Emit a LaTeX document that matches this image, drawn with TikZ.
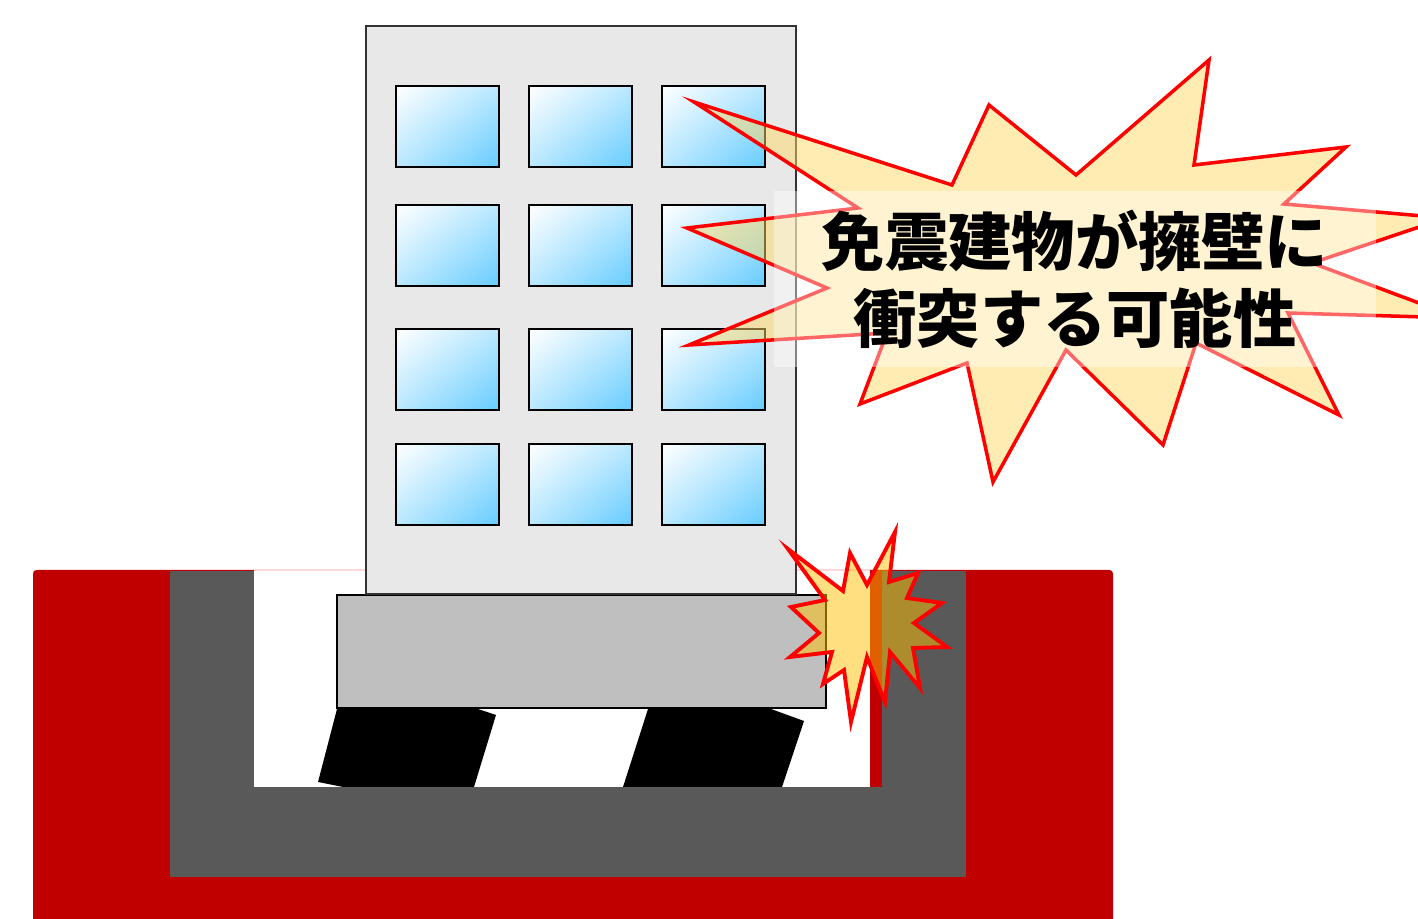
\documentclass[tikz,border=0pt]{standalone}
\usepackage{fontspec}
\newfontfamily\jpfont{Noto Sans CJK JP}
\usetikzlibrary{shadings}
\definecolor{groundred}{HTML}{C00000}
\definecolor{wallgray}{HTML}{595959}
\definecolor{bldgray}{HTML}{E8E8E8}
\definecolor{slabgray}{HTML}{BFBFBF}
\definecolor{glass}{HTML}{66CCFF}
\definecolor{burstfill}{HTML}{FFD966}
\definecolor{sparkfill}{HTML}{FFC000}

\begin{document}
\begin{tikzpicture}[x=0.01cm,y=-0.01cm,
    bldg/.style={fill=bldgray, draw=black!80, line width=0.5pt},
    slab/.style={fill=slabgray, draw=black, line width=0.6pt},
    winframe/.style={draw=black, line width=0.65pt},
    burst/.style={draw=red, line width=1pt, line join=miter, fill=burstfill, fill opacity=0.5},
    spark/.style={draw=red, line width=1.1pt, line join=miter, fill=sparkfill, fill opacity=0.5}]
\useasboundingbox (0,0) rectangle (1418,919);
% ground, retaining wall and pit
\fill[groundred, rounded corners=1pt] (33,570) rectangle (1113,930);
\fill[wallgray] (170,571) rectangle (966,877);
\fill[white] (254,571) rectangle (882,787);
\fill[groundred] (870,571) rectangle (882,787);
\draw[red!15, line width=0.3pt] (254,570) -- (870,570);
% isolators
\fill[black] (337,709) -- (478,709) -- (496,715) -- (474,787) -- (343,787) -- (318,782) -- cycle;
\fill[black] (648,709) -- (771,709) -- (804,721) -- (782,787) -- (623,787) -- cycle;
% building
\draw[slab] (337,595) rectangle (826,708);
\draw[bldg] (366,26) rectangle (796,594);
\foreach \x in {396,529,662}
  \foreach \y in {86,205,329,444} {
    \shade[upper left=white, upper right=glass!45, lower left=glass!45, lower right=glass]
      (\x,\y) rectangle ++(103,81);
    \draw[winframe] (\x,\y) rectangle ++(103,81);
  }
% spark at the wall
\draw[spark] (788,549) -- (843,591) -- (850,553) -- (867,585) -- (895,532) -- (889,582)
  -- (918,573) -- (907,598) -- (942,603) -- (914,623) -- (947,647) -- (913,648)
  -- (920,688) -- (890,652) -- (885,702) -- (867,657) -- (851,722) -- (844,670)
  -- (823,684) -- (832,652) -- (790,657) -- (819,633) -- (791,607) -- (825,600) -- cycle;
% callout
\draw[burst] (694,102) -- (952,185) -- (989,105) -- (1076,175) -- (1209,60) -- (1194,165)
  -- (1346,147) -- (1284,204) -- (1446,218) -- (1312,263) -- (1459,318) -- (1288,313)
  -- (1339,415) -- (1196,343) -- (1163,445) -- (1066,350) -- (993,482) -- (967,363)
  -- (860,404) -- (887,333) -- (689,345) -- (827,288) -- (687,228) -- (858,208) -- cycle;
\node[fill=white, fill opacity=0.4, text opacity=1, minimum width=6.02cm, minimum height=1.75cm,
  align=center, font=\jpfont\bfseries\fontsize{18pt}{22pt}\selectfont] (msg) at (1075,279)
  {免震建物が擁壁に\\衝突する可能性};
\end{tikzpicture}
\end{document}
